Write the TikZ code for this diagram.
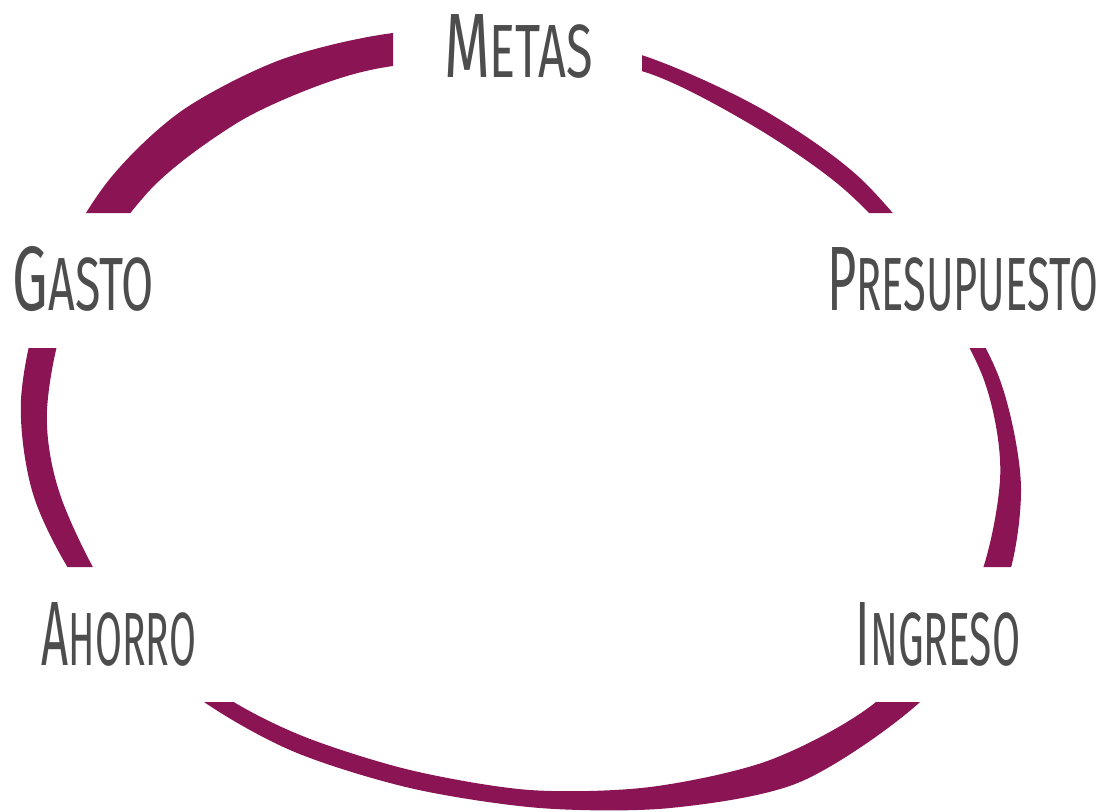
\documentclass[tikz,border=0pt]{standalone}
\usepackage{fontspec}
\usepackage{graphicx}
\usepackage{tikz}
\newfontfamily\labelfont{Fira Sans}[FakeStretch=0.6]
\definecolor{ringcolor}{HTML}{8B1454}
\definecolor{labelgray}{HTML}{4D4D4D}
\newcommand{\capword}[3]{\scalebox{#1}[1]{#2{\fontsize{37.7pt}{40pt}\selectfont #3}}}

\begin{document}
\begin{tikzpicture}[x=0.5pt, y=-0.5pt,
  word/.style={font=\labelfont\fontsize{45.7pt}{48pt}\selectfont, text=labelgray, inner sep=0pt, anchor=base}]

\useasboundingbox (0,0) rectangle (1106,811);

\begin{scope}
\clip (0,0) rectangle (393,213) (642,0) rectangle (1106,213) (0,348) rectangle (1106,567) (0,702) rectangle (1106,811);
\fill[ringcolor, even odd rule]
  plot[smooth cycle] coordinates {(393,33) (520,30) (641.5,55) (760,108) (860,178) (945,280) (1000,380) (1021,490) (1000,600) (920,702) (800,782) (670,808) (540,808) (410,788) (290,750) (190,692) (90,600) (35,500) (21,400) (45,290) (105,185) (180,112) (280,60)}
  plot[smooth cycle] coordinates {(393,66) (520,58) (641.5,71) (750,124) (845,190) (928,280) (984,380) (1000,480) (970,600) (876,702) (770,760) (650,787) (530,790) (410,770) (300,735) (215,690) (120,610) (62,500) (47,410) (72,300) (150,190) (237,123) (320,85)};
\end{scope}

\node[word] (metas) at (518.5,77) {\capword{1.075}{M}{ETAS}};
\node[word] (gasto) at (83.5,310) {\capword{1.03}{G}{ASTO}};
\node[word] (presupuesto) at (962.5,310) {\capword{0.92}{P}{RESUPUESTO}};
\node[word] (ahorro) at (119,665) {\capword{0.86}{A}{HORRO}};
\node[word] (ingreso) at (938,665) {\capword{0.9}{I}{NGRESO}};

\end{tikzpicture}
\end{document}
